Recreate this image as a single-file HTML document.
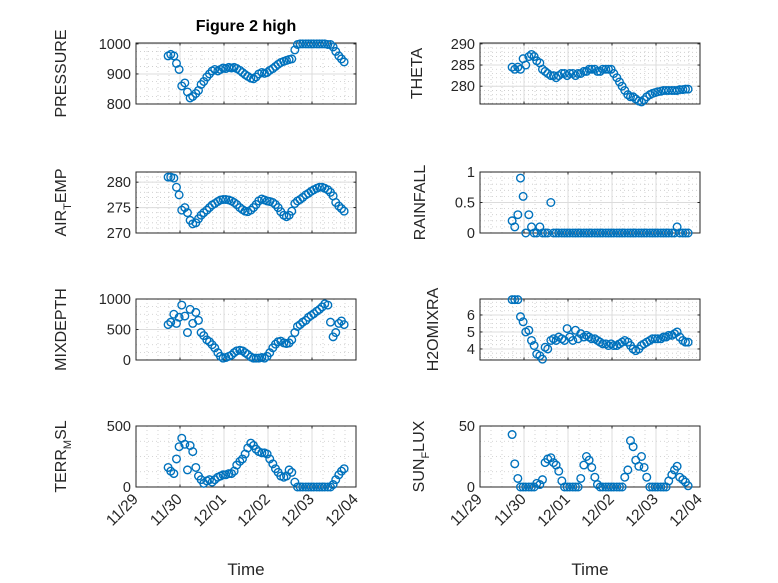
<!DOCTYPE html>
<html><head><meta charset="utf-8"><style>
html,body{margin:0;padding:0;background:#fff;}
svg{display:block;font-family:"Liberation Sans",sans-serif;}
</style></head><body>
<svg id="fig" width="778" height="583" viewBox="0 0 778 583" xmlns="http://www.w3.org/2000/svg">
<rect width="778" height="583" fill="#fff"/>
</svg>
<script>
// Time in days since 11/29
const times = [0.73,0.79,0.86,0.92,0.98,1.04,1.11,1.17,1.23,1.29,1.36,1.42,1.48,1.54,1.61,1.67,1.73,1.79,1.86,1.92,1.98,2.04,2.11,2.17,2.23,2.29,2.36,2.42,2.48,2.54,2.61,2.67,2.73,2.79,2.86,2.92,2.98,3.04,3.11,3.17,3.23,3.29,3.36,3.42,3.48,3.54,3.61,3.67,3.73,3.79,3.86,3.92,3.98,4.04,4.11,4.17,4.23,4.29,4.36,4.42,4.48,4.54,4.61,4.67,4.73];
const xTickLabels = ["11/29","11/30","12/01","12/02","12/03","12/04"];
const pressure = [960,965,960,935,915,860,870,840,820,825,835,845,865,875,890,900,910,915,910,915,920,918,922,920,922,918,912,905,898,892,886,884,890,900,905,902,905,912,918,925,932,938,942,945,948,950,980,998,1000,1000,1000,1000,1000,1000,1000,1000,1000,1000,998,998,990,975,960,950,940];
const theta = [284.5,284,284.5,284,286.5,285,287,287.5,287,286,285.5,284,283.5,283,282.5,282.5,282,282.5,283,283,282.5,283,283,282.5,283,283,283.5,283.5,284,284,284,283.5,283.5,284,284,284,284,283,282,281,280,279,278,277.5,277.5,277,276.5,276.3,276.8,277.5,278,278.3,278.5,278.7,278.8,279,279,279,279,279,279,279.2,279.2,279.3,279.3];
const airTemp = [281,281,280.8,279,277.5,274.5,275,274,272.5,271.8,272,272.8,273.5,274,274.5,275,275.5,275.8,276.2,276.5,276.6,276.6,276.5,276.3,276,275.6,275,274.6,274.3,274.2,274.5,275,275.6,276.3,276.7,276.5,276.3,276.2,276,275.6,275,274.2,273.5,273.2,273.5,274.3,275.8,276.3,276.6,277,277.5,277.8,278.2,278.5,278.8,279,279,278.8,278.5,278,277.3,276,275.3,274.8,274.3];
const rainfall = [0.2,0.1,0.3,0.9,0.6,0,0.3,0.1,0,0,0.1,0,0,0,0.5,0,0,0,0,0,0,0,0,0,0,0,0,0,0,0,0,0,0,0,0,0,0,0,0,0,0,0,0,0,0,0,0,0,0,0,0,0,0,0,0,0,0,0,0,0,0.1,0,0,0,0];
const mixDepth = [580,620,750,600,700,900,720,450,830,600,780,650,450,400,330,300,250,200,120,60,30,40,60,80,120,150,160,150,120,90,50,30,30,30,40,30,60,120,200,260,300,310,280,270,280,330,450,550,580,620,650,700,730,760,800,830,870,920,900,620,380,450,600,640,580];
const h2oMix = [6.9,6.9,6.9,5.9,5.6,5.0,5.1,4.5,4.2,3.7,3.6,3.4,4.1,4.0,4.5,4.6,4.5,4.7,4.6,4.5,5.2,4.7,4.5,5.1,4.6,4.9,4.7,4.8,4.7,4.6,4.6,4.5,4.4,4.3,4.3,4.2,4.3,4.2,4.2,4.3,4.4,4.5,4.4,4.2,4.0,3.9,4.0,4.2,4.3,4.4,4.5,4.6,4.6,4.6,4.6,4.7,4.7,4.8,4.8,4.9,5.0,4.7,4.5,4.4,4.4];
const terrMsl = [160,130,110,230,330,400,350,140,340,290,160,90,60,30,50,60,40,60,80,90,100,100,110,110,130,180,210,230,270,320,360,340,310,290,280,280,270,230,190,150,120,90,80,90,140,120,40,0,0,0,0,0,0,0,0,0,0,0,0,0,20,60,100,130,150];
const sunFlux = [43,19,7,0,0,0,0,0,0,3,2,6,20,23,24,20,18,13,5,0,0,0,0,0,0,7,18,25,22,16,8,2,0,0,0,0,0,0,0,0,0,8,14,38,33,22,17,25,16,8,0,0,0,0,0,0,0,5,10,14,17,8,6,4,1];

const pressureTicks=[800,900,1000], thetaTicks=[280,285,290], airTicks=[270,275,280], rainTicks=[0,0.5,1], mixTicks=[0,500,1000], h2oTicks=[4,5,6], terrTicks=[0,500], sunTicks=[0,50];

const NS='http://www.w3.org/2000/svg';
const svg=document.getElementById('fig');
function mk(tag,attrs,parent){const e=document.createElementNS(NS,tag);for(const k in attrs)e.setAttribute(k,attrs[k]);(parent||svg).appendChild(e);return e;}

const panels=[
 {name:'pressure',x:136,y:43,ymin:800,ymax:1003,ticks:pressureTicks,data:pressure,label:[['PRESSURE']],lx:66,minor:4},
 {name:'theta',x:480,y:43,ymin:275.8,ymax:290.2,ticks:thetaTicks,data:theta,label:[['THETA']],lx:422,minor:5},
 {name:'air-temp',x:136,y:172,ymin:270,ymax:282,ticks:airTicks,data:airTemp,label:[['AIR'],['T','sub'],['EMP']],lx:66,minor:5},
 {name:'rainfall',x:480,y:172,ymin:0,ymax:1,ticks:rainTicks,data:rainfall,label:[['RAINFALL']],lx:425,minor:5},
 {name:'mixdepth',x:136,y:299,ymin:0,ymax:1000,ticks:mixTicks,data:mixDepth,label:[['MIXDEPTH']],lx:66,minor:4},
 {name:'h2omixra',x:480,y:299,ymin:3.35,ymax:6.94,ticks:h2oTicks,data:h2oMix,label:[['H2OMIXRA']],lx:438,minor:4},
 {name:'terr-msl',x:136,y:426,ymin:0,ymax:500,ticks:terrTicks,data:terrMsl,label:[['TERR'],['M','sub'],['SL']],lx:66,minor:4,bottom:true},
 {name:'sun-flux',x:480,y:426,ymin:0,ymax:50,ticks:sunTicks,data:sunFlux,label:[['SUN'],['F','sub'],['LUX']],lx:424,minor:4,bottom:true}
];
const W=220,H=61;

panels.forEach(p=>{
  const g=mk('g',{});
  
  
  const xs=t=>p.x+t/5*W;
  const ys=v=>p.y+H-(v-p.ymin)/(p.ymax-p.ymin)*H;
  for(let i=1;i<20;i++){ if(i%4===0) continue; const xx=xs(i/4);
    mk('line',{x1:xx,x2:xx,y1:p.y,y2:p.y+H,stroke:'#c8c8c8','stroke-width':0.8,'stroke-dasharray':'1,3'},g);}
  const step=p.ticks.length>1?(p.ticks[1]-p.ticks[0])/p.minor:0;
  if(step>0){for(let v=p.ticks[0]-step*p.minor;v<=p.ymax;v+=step){ if(v<p.ymin) continue;
    const yy=ys(v); mk('line',{x1:p.x,x2:p.x+W,y1:yy,y2:yy,stroke:'#c8c8c8','stroke-width':0.8,'stroke-dasharray':'1,3'},g);}}
  for(let d=1;d<5;d++){const xx=xs(d);mk('line',{x1:xx,x2:xx,y1:p.y,y2:p.y+H,stroke:'#dcdcdc','stroke-width':1},g);}
  p.ticks.forEach(v=>{const yy=ys(v);mk('line',{x1:p.x,x2:p.x+W,y1:yy,y2:yy,stroke:'#dcdcdc','stroke-width':1},g);});
  const box=mk('rect',{x:p.x,y:p.y,width:W,height:H,fill:'none',stroke:'#262626','stroke-width':1},g);
  
  
  for(let d=0;d<=5;d++){const xx=xs(d);
    mk('line',{x1:xx,x2:xx,y1:p.y+H,y2:p.y+H-2.5,stroke:'#262626'},g);
    mk('line',{x1:xx,x2:xx,y1:p.y,y2:p.y+2.5,stroke:'#262626'},g);}
  p.ticks.forEach(v=>{const yy=ys(v);
    mk('line',{x1:p.x,x2:p.x+2.5,y1:yy,y2:yy,stroke:'#262626'},g);
    mk('line',{x1:p.x+W,x2:p.x+W-2.5,y1:yy,y2:yy,stroke:'#262626'},g);
    const t=mk('text',{x:p.x-5,y:yy+5,'text-anchor':'end','font-size':14.5,fill:'#262626'},g);
    t.textContent=String(v);
    
    
  });
  const cy=p.y+H/2;
  const lab=mk('text',{x:0,y:0,'text-anchor':'middle','font-size':16,fill:'#262626',transform:`translate(${p.lx},${cy}) rotate(-90)`},g);
  
  
  p.label.forEach(part=>{const ts=mk('tspan',part[1]?{'font-size':11,dy:5}:{dy:(lab.childNodes.length?-5:0)},lab);ts.textContent=part[0];});
  if(p.bottom){
    xTickLabels.forEach((s,d)=>{const xx=xs(d);
      const t=mk('text',{x:0,y:0,'text-anchor':'end','font-size':15.5,fill:'#262626',transform:`translate(${xx+3},${p.y+H+13}) rotate(-45)`},g);
      t.textContent=s;
      
      
    });
    const xt=mk('text',{x:p.x+W/2,y:575,'text-anchor':'middle','font-size':17,fill:'#262626'},g);
    xt.textContent='Time';
    
    
  }
  p.data.forEach((v,i)=>{
    const c=mk('circle',{cx:xs(times[i]),cy:ys(v),r:3.8,fill:'none',stroke:'#0072BD','stroke-width':1.4},g);
    
    
  });
});
const title=mk('text',{x:246,y:31,'text-anchor':'middle','font-size':16,'font-weight':'bold',fill:'#000'});
title.textContent='Figure 2 high';


</script>
</body></html>
